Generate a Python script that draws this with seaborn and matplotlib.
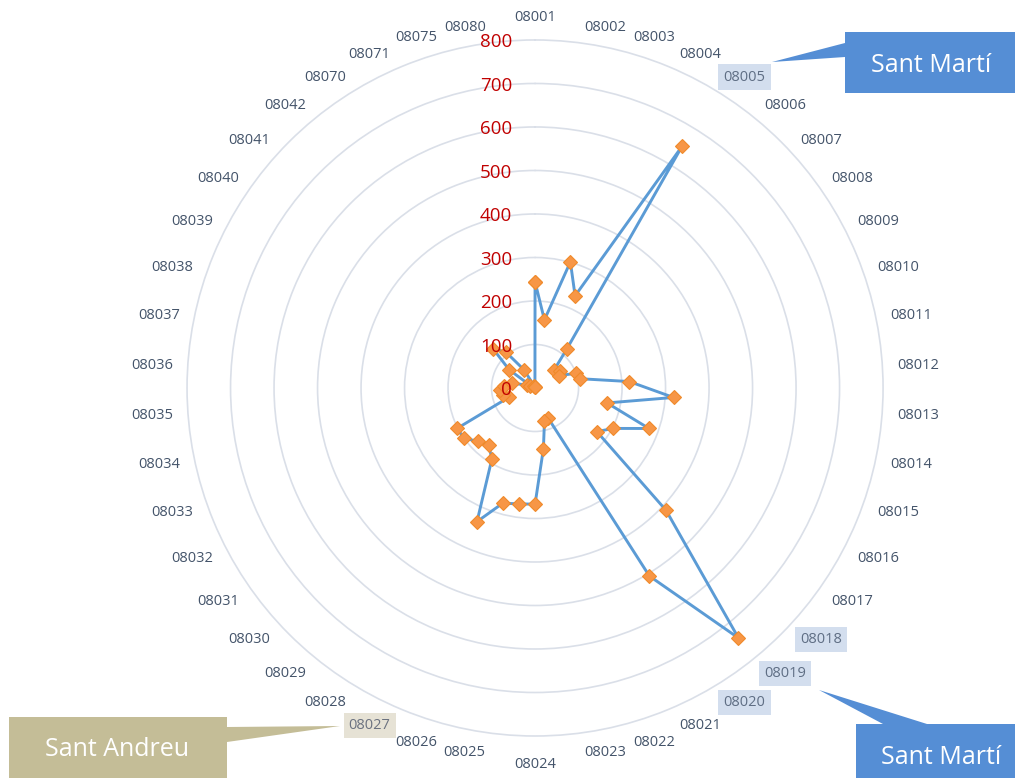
import numpy as np
import pandas as pd
import matplotlib
matplotlib.use("Agg")
import matplotlib.pyplot as plt
import seaborn as sns
from matplotlib.patches import Polygon

# postal codes (categories) and the plotted value for each one
postcodes = ["08001", "08002", "08003", "08004", "08005", "08006", "08007", "08008",
             "08009", "08010", "08011", "08012", "08013", "08014", "08015", "08016",
             "08017", "08018", "08019", "08020", "08021", "08022", "08023", "08024",
             "08025", "08026", "08027", "08028", "08029", "08030", "08031", "08032",
             "08033", "08034", "08035", "08036", "08037", "08038", "08039", "08040",
             "08041", "08042", "08070", "08071", "08075", "08080"]
values = [244, 158, 301, 231, 650, 116, 59, 69,
          62, 101, 105, 217, 319, 169, 278, 202,
          174, 412, 741, 506, 75, 80, 141, 267,
          269, 275, 335, 191, 169, 179, 201, 201,
          64, 75, 81, 72, 55, 20, 12, 73,
          132, 107, 49, 5, 3, 2]
ring_values = [0, 100, 200, 300, 400, 500, 600, 700, 800]

highlight_blue = ["08005", "08018", "08019", "08020"]
highlight_sand = ["08027"]

callout_top = "Sant Martí"
callout_bottom = "Sant Martí"
callout_left = "Sant Andreu"

sns.set_style("white")
plt.rcParams['font.family'] = ['Open Sans', 'DejaVu Sans']

W, H = 1015, 778
fig = plt.figure(figsize=(W / 100, H / 100), dpi=100)
ax = fig.add_axes([0.1757, 0.0428, 0.7029, 0.917], projection='polar')
ax.set_theta_zero_location('N')
ax.set_theta_direction(-1)

n = len(postcodes)
theta = np.arange(n) * 2 * np.pi / n
df = pd.DataFrame({'theta': np.append(theta, theta[0] + 2 * np.pi),
                   'value': values + values[:1]})

sns.lineplot(data=df, x='theta', y='value', sort=False, estimator=None, ax=ax,
             color='#5B9BD5', lw=2.1, marker='D', markersize=7,
             markerfacecolor='#F79646', markeredgecolor='#F08A2A', markeredgewidth=0.8)

ax.set_ylim(0, 820)
ax.set_yticks(ring_values[1:])
ax.set_yticklabels([])
ax.set_xticks([])
ax.set_xlabel('')
ax.set_ylabel('')
ax.yaxis.grid(True, color='#DADFE8', lw=1.2)
ax.spines['polar'].set_visible(False)
ax.set_axisbelow(True)

# red value labels along the vertical axis
for v in ring_values:
    ax.annotate(str(v), xy=(0, v), xytext=(-23, -2.5), textcoords='offset pixels',
                ha='right', va='center', color='#C00000', fontsize=13.5)

# postcode labels around the outside
for i, code in enumerate(postcodes):
    s, c = np.sin(theta[i]), np.cos(theta[i])
    if abs(s) < 0.01:
        ha = 'center'
        va = 'bottom' if c > 0 else 'top'
        r = 835 if c > 0 else 849
        dy = 0
    else:
        ha = 'left' if s > 0 else 'right'
        va = 'center'
        r = 834
        dy = (4 * c if c > 0 else 2.5 * c) - 2.5
    kw = dict(color='#44546A')
    if code in highlight_blue:
        kw = dict(color='#5F6E84', bbox=dict(boxstyle='square,pad=0.35', fc='#D3DEEE', ec='none'))
    elif code in highlight_sand:
        kw = dict(color='#6B7280', bbox=dict(boxstyle='square,pad=0.35', fc='#E6E2D5', ec='none'))
    ax.annotate(code, xy=(theta[i], r), xytext=(0, dy), textcoords='offset pixels',
                ha=ha, va=va, fontsize=10.5, annotation_clip=False, **kw)

# overlay for the callout shapes
oax = fig.add_axes([0, 0, 1, 1])
oax.set_xlim(0, W)
oax.set_ylim(H, 0)
oax.axis('off')
oax.patch.set_alpha(0)

blue = '#558ED5'
sand = '#C4BD97'
oax.add_patch(Polygon([(845, 32), (W, 32), (W, 93), (845, 93), (845, 57), (772, 62), (845, 43)],
                      closed=True, fc=blue, ec='none'))
oax.text(931, 65, callout_top, color='white', fontsize=18, ha='center', va='center')

oax.add_patch(Polygon([(856, 724), (883, 724), (819, 690), (927, 724), (W, 724), (W, H), (856, H)],
                      closed=True, fc=blue, ec='none'))
oax.text(941, 757, callout_bottom, color='white', fontsize=18, ha='center', va='center')

oax.add_patch(Polygon([(9, 717), (227, 717), (227, 727), (340, 726), (227, 742), (227, H), (9, H)],
                      closed=True, fc=sand, ec='none'))
oax.text(117, 750, callout_left, color='white', fontsize=18, ha='center', va='center')

fig.savefig('out.png', dpi=100)
